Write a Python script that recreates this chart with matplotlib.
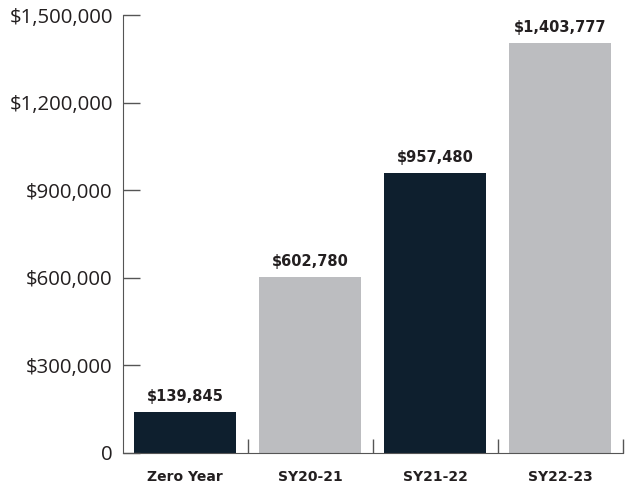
import matplotlib
matplotlib.use("Agg")
import matplotlib.pyplot as plt
from matplotlib.ticker import FuncFormatter, FixedLocator

categories = ["Zero Year", "SY20-21", "SY21-22", "SY22-23"]
values = [139845, 602780, 957480, 1403777]
colors = ["#0e1f2e", "#bcbdc0", "#0e1f2e", "#bcbdc0"]
yticks = [0, 300000, 600000, 900000, 1200000, 1500000]

fig = plt.figure(figsize=(6.42, 4.87), dpi=100)
ax = fig.add_axes([122.5/642, (487-453)/487, 500/642, (453-15)/487])

x = list(range(len(categories)))
ax.bar(x, values, width=0.81, color=colors)
for xi, v in zip(x, values):
    ax.annotate(f"${v:,.0f}", (xi, v), xytext=(0, 6), textcoords="offset points",
                ha="center", va="bottom", fontsize=10.5, fontweight="bold",
                family="DejaVu Sans", color="#231f20")

ax.set_xlim(-0.5, 3.5)
ax.set_ylim(0, 1500000)
ax.set_yticks(yticks)
ax.yaxis.set_major_formatter(FuncFormatter(lambda v, p: "0" if v == 0 else f"${v:,.0f}"))
ax.set_xticks(x)
ax.set_xticklabels(categories)
ax.xaxis.set_minor_locator(FixedLocator([0.5, 1.5, 2.5, 3.5]))
ax.tick_params(axis="x", which="major", length=0, pad=12)
ax.tick_params(axis="x", which="minor", direction="in", length=10, width=1, color="#555555")
ax.tick_params(axis="y", direction="in", length=12, width=1, color="#555555", pad=7)
for lab in ax.get_yticklabels():
    lab.set_family("Open Sans")
    lab.set_fontsize(14.7)
    lab.set_color("#231f20")
for lab in ax.get_xticklabels():
    lab.set_family("DejaVu Sans")
    lab.set_fontweight("bold")
    lab.set_fontsize(10)
    lab.set_color("#231f20")
for s in ["top", "right"]:
    ax.spines[s].set_visible(False)
ax.spines["left"].set_color("#555555")
ax.spines["bottom"].set_color("#555555")

fig.savefig("out.png", dpi=100)
